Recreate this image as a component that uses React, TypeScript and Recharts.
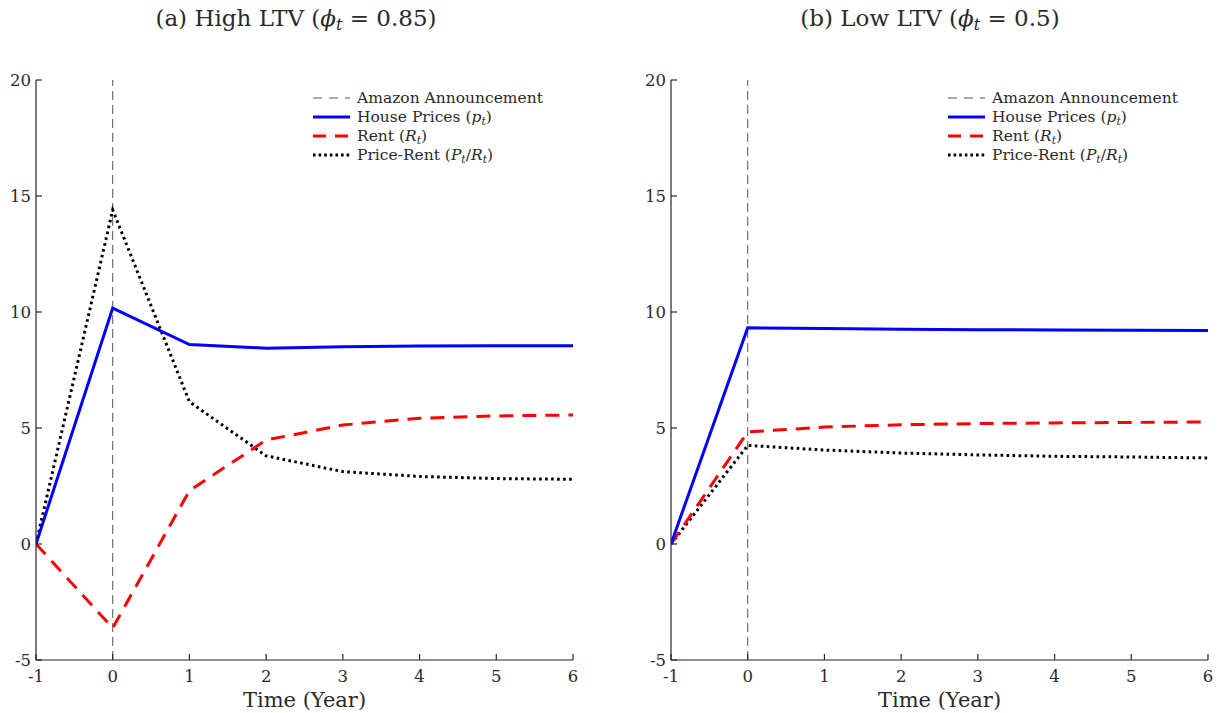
import React from 'react';
import { LineChart, Line, XAxis, YAxis, ReferenceLine } from 'recharts';

// Time axis (years relative to the announcement)
const years = [-1, 0, 1, 2, 3, 4, 5, 6];
const xTicks = [-1, 0, 1, 2, 3, 4, 5, 6];
const yTicks = [-5, 0, 5, 10, 15, 20];

// Panel (a): high LTV
const highHousePrices = [0, 10.17, 8.6, 8.44, 8.5, 8.53, 8.54, 8.54];
const highRent = [0, -3.62, 2.3, 4.48, 5.13, 5.42, 5.52, 5.56];
const highPriceRent = [0, 14.4, 6.13, 3.8, 3.12, 2.91, 2.82, 2.79];

// Panel (b): low LTV
const lowHousePrices = [0, 9.32, 9.29, 9.26, 9.24, 9.22, 9.21, 9.2];
const lowRent = [0, 4.83, 5.04, 5.14, 5.19, 5.22, 5.24, 5.26];
const lowPriceRent = [0, 4.25, 4.05, 3.92, 3.84, 3.78, 3.75, 3.71];

const FONT = "'DejaVu Serif', 'Liberation Serif', serif";
const AXIS = '#262626';
const TEXT = '#2a2a2a';

const seriesStyle = {
  house: { color: '#0000ff', width: 3, dash: undefined as string | undefined },
  rent: { color: '#ff0000', width: 3, dash: '14 9' },
  pr: { color: '#000000', width: 3, dash: '2.6 3.4' },
};

const buildRows = (house: number[], rent: number[], pr: number[]) =>
  years.map((year, i) => ({ year, house: house[i], rent: rent[i], pr: pr[i] }));

const subStyle: React.CSSProperties = { fontSize: '0.7em', lineHeight: 0, verticalAlign: '-0.25em' };
const Sub = ({ children }: { children: React.ReactNode }) => (
  <span style={subStyle}><i>{children}</i></span>
);

const legendItems: { key: string; color: string; width: number; dash?: string; label: React.ReactNode }[] = [
  { key: 'amazon', color: '#555555', width: 1, dash: '9 7', label: <>Amazon Announcement</> },
  {
    key: 'house', color: seriesStyle.house.color, width: 3, dash: undefined,
    label: <>House Prices (<i>p</i><Sub>t</Sub>)</>,
  },
  {
    key: 'rent', color: seriesStyle.rent.color, width: 3, dash: '13 9',
    label: <>Rent (<i>R</i><Sub>t</Sub>)</>,
  },
  {
    key: 'pr', color: seriesStyle.pr.color, width: 3, dash: '2.6 3',
    label: <>Price-Rent (<i>P</i><Sub>t</Sub>/<i>R</i><Sub>t</Sub>)</>,
  },
];

const Legend = ({ left, top }: { left: number; top: number }) => (
  <div style={{ position: 'absolute', left, top, fontFamily: FONT, fontSize: 15.5, color: TEXT }}>
    {legendItems.map((it) => (
      <div key={it.key} style={{ display: 'flex', alignItems: 'center', height: 19, whiteSpace: 'nowrap' }}>
        <svg width={40} height={10} style={{ marginRight: 4, flexShrink: 0 }}>
          <line x1={0} y1={5} x2={37} y2={5} stroke={it.color} strokeWidth={it.width} strokeDasharray={it.dash} />
        </svg>
        <span style={{ lineHeight: '18px' }}>
          {it.label}
        </span>
      </div>
    ))}
  </div>
);

const Title = ({ center, children }: { center: number; children: React.ReactNode }) => (
  <div
    style={{
      position: 'absolute', left: center - 250, width: 500, top: 4, textAlign: 'center',
      fontFamily: FONT, fontSize: 23, lineHeight: '28px', color: TEXT,
    }}
  >
    {children}
  </div>
);

const Panel = ({ left, width, rows }: { left: number; width: number; rows: ReturnType<typeof buildRows> }) => (
  <div style={{ position: 'absolute', left, top: 0 }}>
    <LineChart width={width} height={713} data={rows} margin={{ top: 80, right: width - 573, bottom: 0, left: 6 }}>
      <XAxis
        dataKey="year" type="number" domain={[-1, 6]} ticks={xTicks} allowDataOverflow
        height={53} tickSize={-6} tickMargin={16}
        axisLine={{ stroke: AXIS, strokeWidth: 1.2 }} tickLine={{ stroke: AXIS, strokeWidth: 1.2 }}
        tick={{ fill: TEXT, fontFamily: FONT, fontSize: 16.5 }}
        label={{ value: 'Time (Year)', position: 'insideBottom', offset: 6, fill: TEXT, fontFamily: FONT, fontSize: 21 }}
      />
      <YAxis
        type="number" domain={[-5, 20]} ticks={yTicks} allowDataOverflow
        width={30} tickSize={-6} tickMargin={11}
        axisLine={{ stroke: AXIS, strokeWidth: 1.2 }} tickLine={{ stroke: AXIS, strokeWidth: 1.2 }}
        tick={{ fill: TEXT, fontFamily: FONT, fontSize: 16.5 }}
      />
      <ReferenceLine x={0} stroke="#555555" strokeWidth={1} strokeDasharray="9 5" />
      <Line type="linear" dataKey="pr" stroke={seriesStyle.pr.color} strokeWidth={seriesStyle.pr.width}
        strokeDasharray={seriesStyle.pr.dash} dot={false} isAnimationActive={false} />
      <Line type="linear" dataKey="rent" stroke={seriesStyle.rent.color} strokeWidth={seriesStyle.rent.width}
        strokeDasharray={seriesStyle.rent.dash} dot={false} isAnimationActive={false} />
      <Line type="linear" dataKey="house" stroke={seriesStyle.house.color} strokeWidth={seriesStyle.house.width}
        dot={false} isAnimationActive={false} />
    </LineChart>
  </div>
);

export default function App() {
  const highRows = buildRows(highHousePrices, highRent, highPriceRent);
  const lowRows = buildRows(lowHousePrices, lowRent, lowPriceRent);
  return (
    <div style={{ position: 'absolute', left: 0, top: 0, width: 1225, height: 713, background: '#fff', overflow: 'hidden' }}>
      <Title center={296}>(a) High LTV (<i>ϕ</i><Sub>t</Sub> = 0.85)</Title>
      <Title center={930}>(b) Low LTV (<i>ϕ</i><Sub>t</Sub> = 0.5)</Title>
      <Panel left={0} width={600} rows={highRows} />
      <Panel left={635} width={590} rows={lowRows} />
      <Legend left={313} top={88} />
      <Legend left={948} top={88} />
    </div>
  );
}
